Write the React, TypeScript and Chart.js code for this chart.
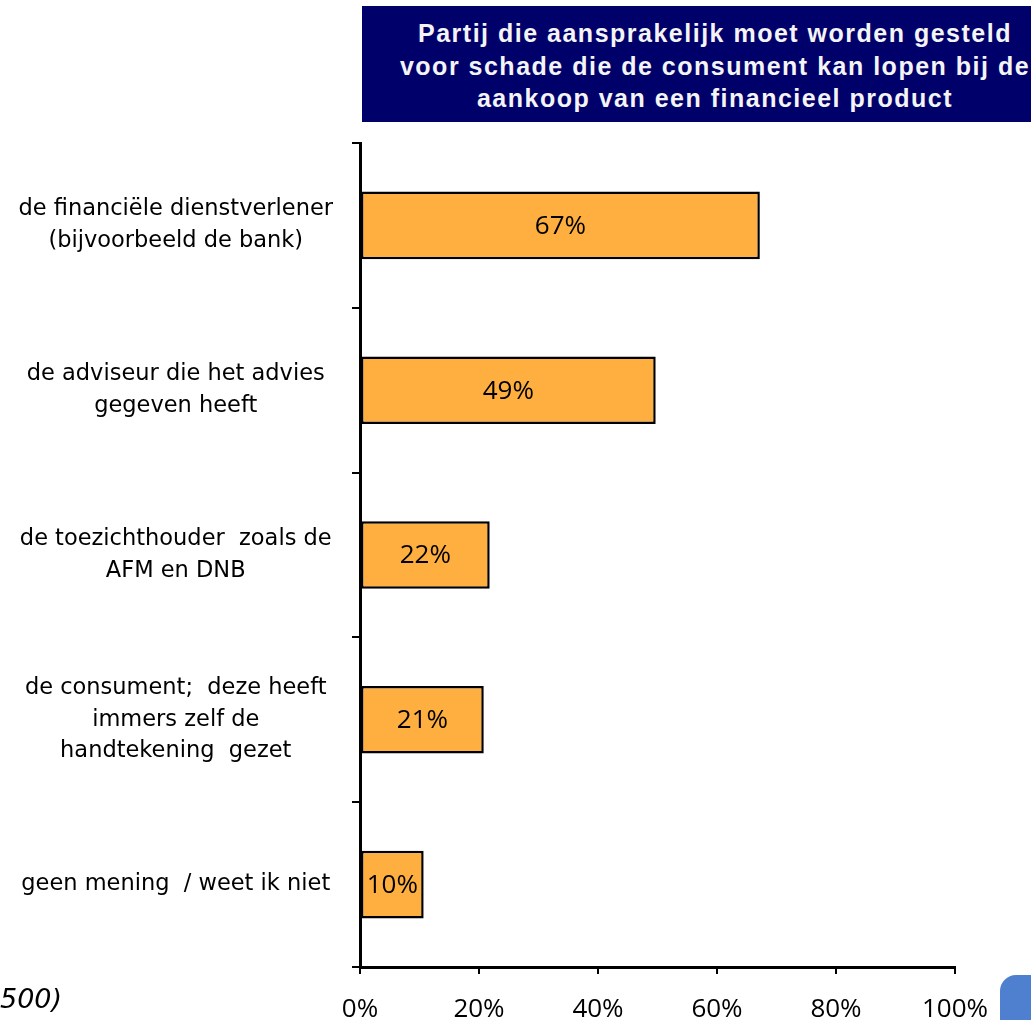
import React, { useEffect, useRef } from "react";
import { Chart, registerables } from "chart.js";

Chart.register(...registerables);

const categories: string[][] = [
  ["de financiële dienstverlener", "(bijvoorbeeld de bank)"],
  ["de adviseur die het advies", "gegeven heeft"],
  ["de toezichthouder  zoals de", "AFM en DNB"],
  ["de consument;  deze heeft", "immers zelf de", "handtekening  gezet"],
  ["geen mening  / weet ik niet"],
];
const values: number[] = [67.2, 49.7, 21.8, 20.8, 10.7];
const valueLabels: string[] = ["67%", "49%", "22%", "21%", "10%"];
const xTicks: number[] = [0, 20, 40, 60, 80, 100];

const titleLines: string[] = [
  "Partij die aansprakelijk moet worden gesteld",
  "voor schade die de consument kan lopen bij de",
  "aankoop van een financieel product",
];

const barLabelPlugin = {
  id: "barLabels",
  afterDatasetsDraw(chart: any) {
    const ctx = chart.ctx;
    const meta = chart.getDatasetMeta(0);
    ctx.save();
    ctx.font = "26px 'Open Sans'";
    ctx.fillStyle = "#000";
    ctx.textAlign = "center";
    ctx.textBaseline = "middle";
    meta.data.forEach((el: any, i: number) => {
      const cx = (el.x + el.base) / 2;
      ctx.fillText(valueLabels[i], cx, el.y + 1);
    });
    ctx.restore();
  },
};

export default function App() {
  const ref = useRef<HTMLCanvasElement>(null);
  useEffect(() => {
    if (!ref.current) return;
    const chart = new Chart(ref.current, {
      type: "bar",
      data: {
        labels: categories,
        datasets: [
          {
            data: values,
            backgroundColor: "#FFAF40",
            borderColor: "#000",
            borderWidth: 2.5,
            borderSkipped: false,
            categoryPercentage: 1,
            barPercentage: 0.41,
          },
        ],
      },
      options: {
        indexAxis: "y",
        animation: false,
        responsive: false,
        layout: { padding: { top: 143, right: 76, left: 0, bottom: 0 } },
        plugins: {
          legend: { display: false },
          tooltip: { enabled: false },
          title: { display: false },
        },
        scales: {
          y: {
            type: "category",
            offset: true,
            grid: {
              offset: true,
              drawOnChartArea: false,
              drawTicks: true,
              tickLength: 8,
              color: "#000",
              lineWidth: 2,
            },
            border: { display: true, color: "#000", width: 3 },
            ticks: {
              crossAlign: "center",
              padding: 19,
              color: "#000",
              font: { family: "'DejaVu Sans'", size: 22.5, lineHeight: 1.4 },
            },
            afterFit: (s: any) => {
              s.width = 360;
            },
          },
          x: {
            type: "linear",
            min: 0,
            max: 100,
            afterBuildTicks: (s: any) => {
              s.ticks = xTicks.map((v) => ({ value: v }));
            },
            grid: {
              drawOnChartArea: false,
              drawTicks: true,
              tickLength: 7,
              color: "#000",
              lineWidth: 2,
            },
            border: { display: true, color: "#000", width: 3 },
            ticks: {
              padding: 20,
              color: "#000",
              maxRotation: 0,
              font: { family: "'Open Sans'", size: 26 },
              callback: (v: any) => v + "%",
            },
            afterFit: (s: any) => {
              s.height = 53;
            },
          },
        },
      },
      plugins: [barLabelPlugin],
    });
    return () => chart.destroy();
  }, []);

  return (
    <div style={{ position: "absolute", left: 0, top: 0, width: 1031, height: 1020, overflow: "hidden", background: "#fff" }}>
      <canvas ref={ref} width={1031} height={1020} style={{ position: "absolute", left: 0, top: 0, width: 1031, height: 1020 }} />
      <div
        style={{
          position: "absolute",
          left: 362,
          top: 6,
          width: 669,
          height: 116,
          boxSizing: "border-box",
          paddingLeft: 37,
          paddingTop: 11,
          background: "#00006b",
          color: "#f4f4f4",
          fontFamily: "'Liberation Sans', Arial, sans-serif",
          fontWeight: "bold",
          fontSize: 25,
          letterSpacing: "1.5px",
          lineHeight: "32.5px",
          textAlign: "center",
          whiteSpace: "nowrap",
        }}
      >
        {titleLines.map((l, i) => (
          <div key={i}>{l}</div>
        ))}
      </div>
      <div
        style={{
          position: "absolute",
          left: 0,
          top: 983,
          fontFamily: "'DejaVu Sans', sans-serif",
          fontStyle: "italic",
          fontSize: 27,
          color: "#000",
        }}
      >
        500)
      </div>
      <div
        style={{
          position: "absolute",
          left: 1000,
          top: 975,
          width: 40,
          height: 50,
          borderTopLeftRadius: 16,
          background: "#4f7fcf",
        }}
      />
    </div>
  );
}
